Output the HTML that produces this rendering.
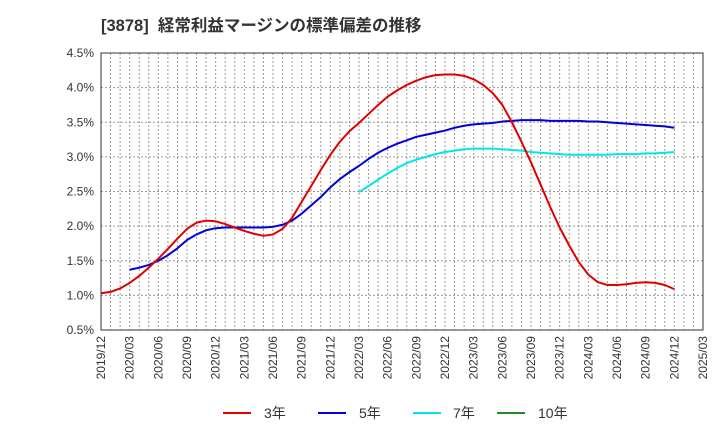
<!DOCTYPE html>
<html><head><meta charset="utf-8"><style>
body{margin:0;background:#fff;width:720px;height:440px;overflow:hidden;font-family:"Liberation Sans","Noto Sans CJK JP",sans-serif}
</style></head><body>
<svg id="c" width="720" height="440" style="font-family:'Liberation Sans','Noto Sans CJK JP',sans-serif">
<text x="101" y="31" font-size="16.5" font-weight="bold" fill="#333" xml:space="preserve">[3878]  経常利益マージンの標準偏差の推移</text>
<g id="grid"></g><g id="lines"></g><g id="axes"></g>
<g font-size="14" fill="#333">
<line x1="223" y1="413" x2="251" y2="413" stroke="#e00000" stroke-width="2"/><text x="264" y="418">3年</text>
<line x1="318" y1="413" x2="346" y2="413" stroke="#0000dd" stroke-width="2"/><text x="359" y="418">5年</text>
<line x1="413" y1="413" x2="441" y2="413" stroke="#00e5ee" stroke-width="2"/><text x="453" y="418">7年</text>
<line x1="497" y1="413" x2="525" y2="413" stroke="#228b22" stroke-width="2"/><text x="538" y="418">10年</text>
</g>
</svg>
<script>
const yTicks=[0.5,1.0,1.5,2.0,2.5,3.0,3.5,4.0,4.5];
const xLabels=["2019/12","2020/03","2020/06","2020/09","2020/12","2021/03","2021/06","2021/09","2021/12","2022/03","2022/06","2022/09","2022/12","2023/03","2023/06","2023/09","2023/12","2024/03","2024/06","2024/09","2024/12","2025/03"];
const s3Start=0;
const s3=[1.03,1.05,1.10,1.18,1.28,1.40,1.53,1.67,1.82,1.96,2.05,2.08,2.07,2.03,1.98,1.93,1.89,1.86,1.88,1.96,2.12,2.35,2.58,2.81,3.03,3.22,3.37,3.49,3.62,3.75,3.87,3.96,4.04,4.10,4.15,4.18,4.19,4.19,4.17,4.12,4.04,3.92,3.75,3.50,3.22,2.92,2.60,2.28,1.98,1.72,1.48,1.30,1.19,1.15,1.15,1.16,1.18,1.19,1.18,1.15,1.09];
const s5Start=3;
const s5=[1.37,1.40,1.44,1.50,1.58,1.68,1.80,1.88,1.94,1.97,1.98,1.98,1.98,1.98,1.98,1.99,2.02,2.08,2.18,2.30,2.42,2.56,2.68,2.78,2.87,2.97,3.06,3.13,3.19,3.24,3.29,3.32,3.35,3.38,3.42,3.45,3.47,3.48,3.49,3.51,3.52,3.53,3.53,3.53,3.52,3.52,3.52,3.52,3.51,3.51,3.50,3.49,3.48,3.47,3.46,3.45,3.44,3.42];
const s7Start=27;
const s7=[2.49,2.58,2.67,2.76,2.84,2.91,2.96,3.00,3.04,3.07,3.09,3.11,3.12,3.12,3.12,3.11,3.10,3.09,3.07,3.06,3.05,3.04,3.03,3.03,3.03,3.03,3.03,3.04,3.04,3.04,3.05,3.05,3.06,3.07];
const L=101,R=703,T=53,B=330,NM=63;
const X=m=>L+(R-L)*m/NM, Y=v=>B-(v-0.5)/4*(B-T);
const NS="http://www.w3.org/2000/svg";
function mk(p,t,a){const e=document.createElementNS(NS,t);for(const k in a)e.setAttribute(k,a[k]);p.appendChild(e);return e;}
const g=document.getElementById('grid'),ax=document.getElementById('axes'),ln=document.getElementById('lines');
for(let m=1;m<NM;m++){const e=mk(g,'line',{x1:X(m),x2:X(m),y1:T,y2:B,stroke:'#999','stroke-dasharray':'2,2','stroke-width':1});

}
yTicks.forEach(v=>{if(v>0.5&&v<4.5){const e=mk(g,'line',{x1:L,x2:R,y1:Y(v),y2:Y(v),stroke:'#999','stroke-dasharray':'2,2'});

}
const t=mk(ax,'text',{x:L-7,y:Y(v)+4,'text-anchor':'end','font-size':12,fill:'#333'});t.textContent=v.toFixed(1)+'%';

});
xLabels.forEach((s,i)=>{const x=X(i*3);const t=mk(ax,'text',{x:0,y:0,transform:`translate(${x+4},336) rotate(-90)`,'text-anchor':'end','font-size':12,fill:'#333'});t.textContent=s;

});
const f=mk(ax,'rect',{x:L,y:T,width:R-L,height:B-T,fill:'none',stroke:'#333','stroke-width':1});


function series(d,st,c,n){const p=mk(ln,'polyline',{points:d.map((v,i)=>X(st+i)+','+Y(v)).join(' '),fill:'none',stroke:c,'stroke-width':2,'stroke-linejoin':'round'});

}
series(s7,s7Start,'#00e5ee','line-7y');
series(s5,s5Start,'#0000dd','line-5y');
series(s3,s3Start,'#e00000','line-3y');
</script>
</body></html>
